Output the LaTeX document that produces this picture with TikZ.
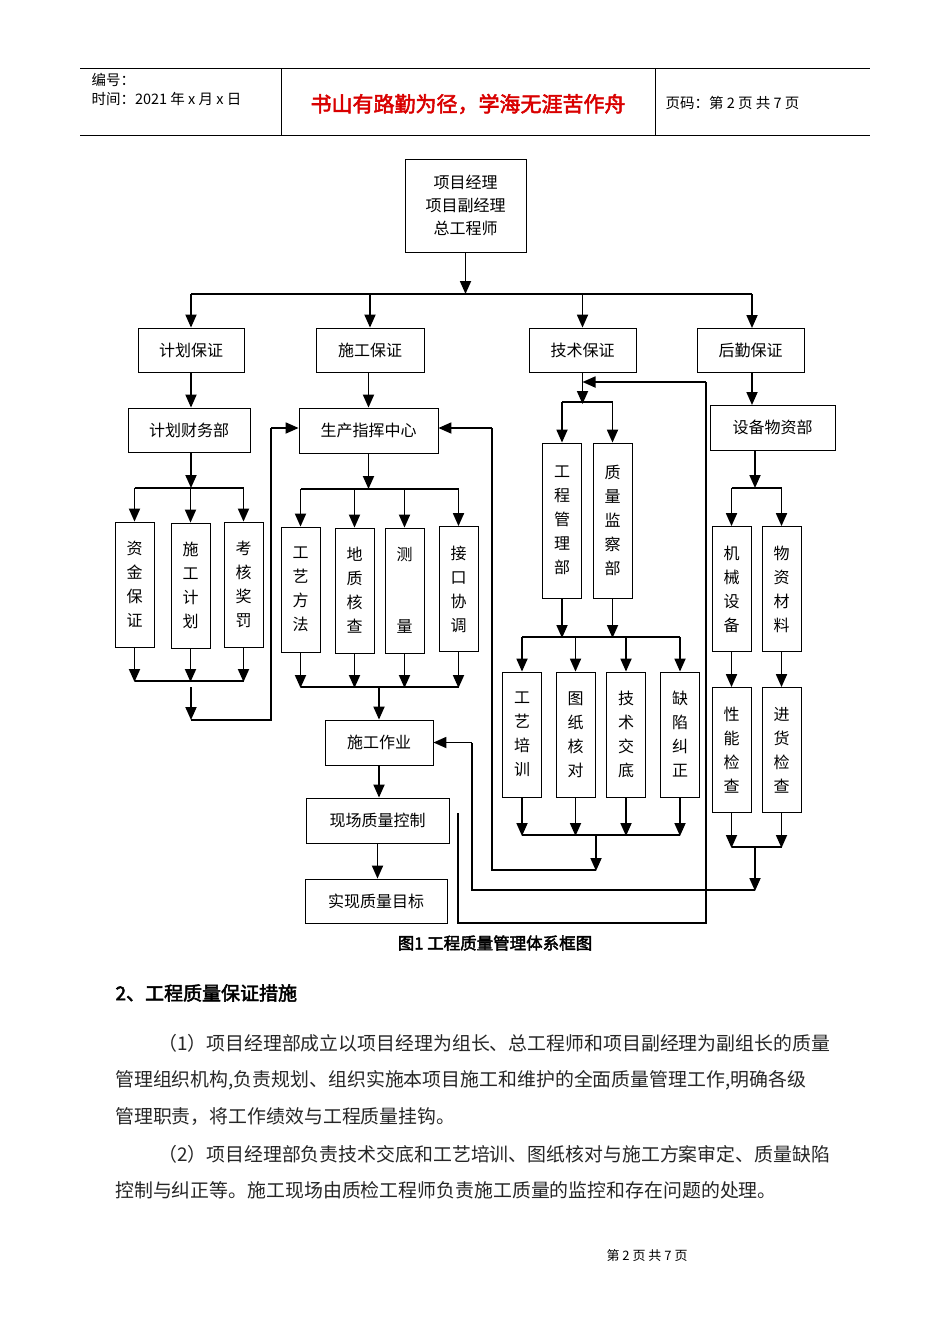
\documentclass[tikz,border=0pt]{standalone}
\usepackage{fontspec}
\setmainfont{Liberation Serif}
\newfontfamily\cjk{Noto Sans CJK SC}
\newfontfamily\cjkb{Noto Sans CJK SC}[FakeBold=2.5]
\usetikzlibrary{arrows.meta}
\begin{document}
\begin{tikzpicture}[x=1pt,y=-1pt,
  bx/.style={draw,line width=0.8pt,inner sep=0pt,font=\cjk\fontsize{16}{24}\selectfont,align=center},
  hb/.style={bx,minimum height=45},
  vb/.style={bx,minimum width=39,minimum height=125},
  ar/.style={line width=1.8pt,-{Triangle[length=13pt,width=11pt]}},
  ln/.style={line width=1.8pt}]
\useasboundingbox (0,0) rectangle (950,1344);
\fill[white] (0,0) rectangle (950,1344);
% header
\draw[line width=0.6pt] (80,68) -- (870,68) (80,135) -- (870,135) (281,68) -- (281,135) (655,68) -- (655,135);
\node[anchor=west,font=\cjk\fontsize{14.5}{16}\selectfont] (h1) at (88,80) {编号：};
\node[anchor=west,font=\cjk\fontsize{14.5}{16}\selectfont] (h2) at (88,99) {时间：2021 年 x 月 x 日};
\node[font=\cjkb\fontsize{21}{23}\selectfont,text=red!85!black] (h3) at (468,104) {书山有路勤为径，学海无涯苦作舟};
\node[anchor=west,font=\cjk\fontsize{14.5}{16}\selectfont] (h4) at (662,103) {页码：第 2 页 共 7 页};
% nodes
\node[bx,minimum width=121,minimum height=93,font=\cjk\fontsize{16}{23}\selectfont] (top) at (465.5,205.5) {项目经理\\项目副经理\\总工程师};
\node[hb,minimum width=106,minimum height=44] (jh) at (191,350) {计划保证};
\node[hb,minimum width=108,minimum height=44] (sg) at (370,350) {施工保证};
\node[hb,minimum width=107,minimum height=44] (js) at (582.5,350) {技术保证};
\node[hb,minimum width=107,minimum height=44] (hq) at (750.5,350) {后勤保证};
\node[hb,minimum width=122,minimum height=44] (cw) at (189,430) {计划财务部};
\node[hb,minimum width=139,minimum height=45] (sc) at (368.5,430.5) {生产指挥中心};
\node[hb,minimum width=125,minimum height=45] (sb) at (772.5,427.5) {设备物资部};
\node[vb] (a1) at (134.5,584.5) {资\\金\\保\\证};
\node[vb] (a2) at (190.5,585.5) {施\\工\\计\\划};
\node[vb] (a3) at (243.5,584.5) {考\\核\\奖\\罚};
\node[vb] (b1) at (300.5,589.5) {工\\艺\\方\\法};
\node[vb] (b2) at (354.5,590.5) {地\\质\\核\\查};
\node[vb] (b3) at (404.5,590.5) {测\\~\\~\\量};
\node[vb] (b4) at (458.5,589) {接\\口\\协\\调};
\node[vb,minimum height=155] (c1) at (562,520.5) {工\\程\\管\\理\\部};
\node[vb,minimum height=155] (c2) at (612.5,520.5) {质\\量\\监\\察\\部};
\node[vb] (d1) at (522,734.5) {工\\艺\\培\\训};
\node[vb] (d2) at (575.5,734.5) {图\\纸\\核\\对};
\node[vb] (d3) at (626,734.5) {技\\术\\交\\底};
\node[vb] (d4) at (680,734.5) {缺\\陷\\纠\\正};
\node[vb] (e1) at (731.5,589) {机\\械\\设\\备};
\node[vb] (e2) at (781.5,589) {物\\资\\材\\料};
\node[vb] (f1) at (731.5,750) {性\\能\\检\\查};
\node[vb] (f2) at (781.5,750) {进\\货\\检\\查};
\node[hb,minimum width=108] (zy) at (379,742.5) {施工作业};
\node[hb,minimum width=143] (xc) at (377.5,820.5) {现场质量控制};
\node[hb,minimum width=142,minimum height=44] (sx) at (376,901) {实现质量目标};
% top tree
\draw[ln] (top.south) -- (465.5,285);
\draw[ar] (465.5,270) -- (465.5,294);
\draw[ln] (191,294) -- (752,294);
\draw[ar] (191,294) -- (jh.north);
\draw[ar] (370,294) -- (sg.north);
\draw[ar] (582.5,294) -- (js.north);
\draw[ar] (752,294) -- (752,328);
\draw[ar] (jh.south) -- (cw.north -| jh.south);
\draw[ar] (sg.south -| 368.5,0) -- (sc.north);
\draw[ar] (hq.south -| 752,0) -- (752,405);
% left group
\draw[ar] (191,452) -- (191,488);
\draw[ln] (134.5,488) -- (243.5,488);
\draw[ar] (134.5,488) -- (a1.north);
\draw[ar] (190.5,488) -- (a2.north);
\draw[ar] (243.5,488) -- (a3.north);
\draw[ar] (a1.south) -- (134.5,682);
\draw[ar] (a2.south) -- (190.5,682);
\draw[ar] (a3.south) -- (243.5,682);
\draw[ln] (134.5,681) -- (243.5,681);
\draw[ar] (191,687) -- (191,720);
\draw[ln] (191,720) -- (271,720) -- (271,428);
\draw[ar] (271,428) -- (sc.west |- 0,428);
% middle group
\draw[ar] (sc.south) -- (368.5,489);
\draw[ln] (300.5,489) -- (458.5,489);
\draw[ar] (300.5,489) -- (b1.north);
\draw[ar] (354.5,489) -- (b2.north);
\draw[ar] (404.5,489) -- (b3.north);
\draw[ar] (458.5,489) -- (b4.north);
\draw[ar] (b1.south) -- (300.5,688);
\draw[ar] (b2.south) -- (354.5,688);
\draw[ar] (b3.south) -- (404.5,688);
\draw[ar] (b4.south) -- (458.5,688);
\draw[ln] (300.5,687) -- (458.5,687);
\draw[ar] (379,687) -- (zy.north);
\draw[ar] (zy.south) -- (xc.north -| zy.south);
\draw[ar] (377.5,843) -- (sx.north -| 377.5,0);
% tech group
\draw[ar] (js.south) -- (582.5,404);
\draw[ln] (562,402) -- (612.5,402);
\draw[ar] (562,402) -- (c1.north);
\draw[ar] (612.5,402) -- (c2.north);
\draw[ar] (c1.south) -- (562,638);
\draw[ar] (c2.south) -- (612.5,638);
\draw[ln] (522,637) -- (680,637);
\draw[ar] (522,637) -- (d1.north);
\draw[ar] (575.5,637) -- (d2.north);
\draw[ar] (626,637) -- (d3.north);
\draw[ar] (680,637) -- (d4.north);
\draw[ar] (d1.south) -- (522,836);
\draw[ar] (d2.south) -- (575.5,836);
\draw[ar] (d3.south) -- (626,836);
\draw[ar] (d4.south) -- (680,836);
\draw[ln] (522,835) -- (680,835);
\draw[ar] (596,835) -- (596,871);
\draw[ln] (596,870) -- (492,870) -- (492,428);
\draw[ar] (492,428) -- (sc.east |- 0,428);
% logistics group
\draw[ar] (755,450) -- (755,488);
\draw[ln] (731.5,488) -- (781.5,488);
\draw[ar] (731.5,488) -- (e1.north);
\draw[ar] (781.5,488) -- (e2.north);
\draw[ar] (e1.south) -- (f1.north);
\draw[ar] (e2.south) -- (f2.north);
\draw[ar] (f1.south) -- (731.5,848);
\draw[ar] (f2.south) -- (781.5,848);
\draw[ln] (731.5,847) -- (781.5,847);
\draw[ar] (755,847) -- (755,891);
\draw[ln] (755,890) -- (472,890) -- (472,742.5);
\draw[ar] (472,742.5) -- (zy.east);
% feedback
\coordinate (fb) at (458,813);
\draw[ln] (fb) -- (458,923) -- (706,923) -- (706,382);
\draw[ar] (706,382) -- (582.5,382);
% caption and text
\node[font=\cjkb\fontsize{16.5}{18}\selectfont] (cap) at (495,943) {图1 工程质量管理体系框图};
\node[anchor=west,font=\cjkb\fontsize{19}{21}\selectfont] (sec) at (112,993) {2、工程质量保证措施};
\tikzset{para/.style={anchor=west,font=\cjk\fontsize{18.9}{19}\selectfont,inner sep=0pt,text=black!85}}
\node[para] (p1) at (158,1043) {（1）项目经理部成立以项目经理为组长、总工程师和项目副经理为副组长的质量};
\node[para] (p2) at (115,1080) {管理组织机构,负责规划、组织实施本项目施工和维护的全面质量管理工作,明确各级};
\node[para] (p3) at (115,1117) {管理职责，将工作绩效与工程质量挂钩。};
\node[para] (p4) at (158,1154) {（2）项目经理部负责技术交底和工艺培训、图纸核对与施工方案审定、质量缺陷};
\node[para] (p5) at (115,1190) {控制与纠正等。施工现场由质检工程师负责施工质量的监控和存在问题的处理。};
\node[font=\cjk\fontsize{13}{14}\selectfont] (ft) at (647,1256) {第 2 页 共 7 页};
\end{tikzpicture}
\end{document}
